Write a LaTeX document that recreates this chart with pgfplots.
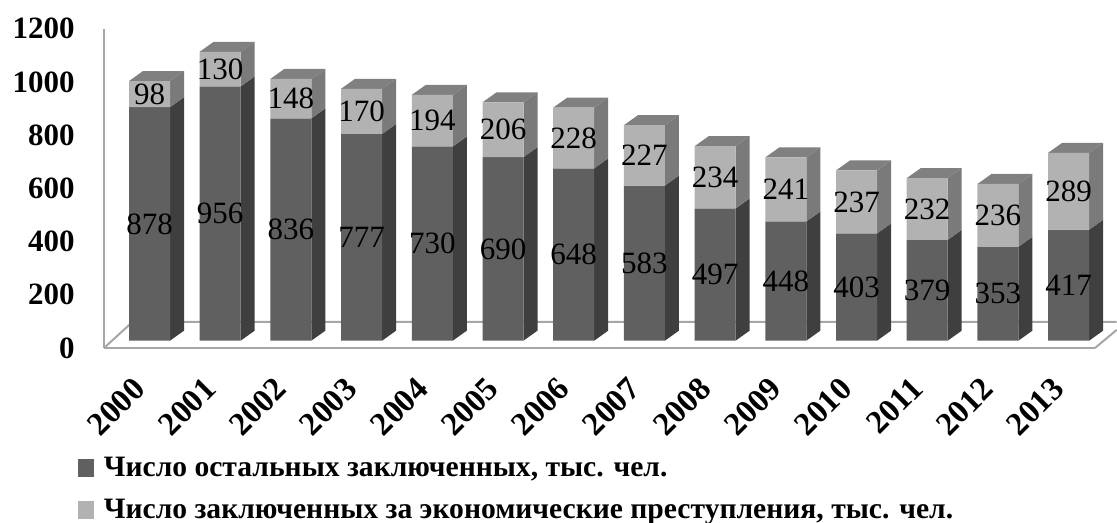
\documentclass[border=0pt]{standalone}
\usepackage{fontspec}
\setmainfont{Liberation Serif}
\usepackage{pgfplots}
\usepackage{pgfplotstable}
\pgfplotsset{compat=1.18}

\definecolor{darkfront}{HTML}{606060}
\definecolor{darkside}{HTML}{3F3F3F}
\definecolor{lightfront}{HTML}{B2B2B2}
\definecolor{lightside}{HTML}{7A7A7A}
\definecolor{topface}{HTML}{808080}
\definecolor{wall}{HTML}{A6A6A6}

\pgfplotstableread{
idx year other econ
0 2000 878 98
1 2001 956 130
2 2002 836 148
3 2003 777 170
4 2004 730 194
5 2005 690 206
6 2006 648 228
7 2007 583 227
8 2008 497 234
9 2009 448 241
10 2010 403 237
11 2011 379 232
12 2012 353 236
13 2013 417 289
}\data

\newcommand{\bigfont}{\fontsize{23.25}{28}\selectfont}

\begin{document}
\begin{tikzpicture}[x=0.75pt,y=0.75pt]
% page = 1117x523 px, 1 px = 0.75pt, axis origin at px (104,348)
\useasboundingbox (-104,-175) rectangle (1013,348);
\begin{axis}[
    scale only axis,
    width=743.25pt, height=239.4pt,
    xmin=-0.6436, xmax=13.373,
    ymin=0, ymax=1200,
    clip=false,
    axis x line*=bottom, axis y line*=left,
    axis line style={wall, line width=1.8pt, -},
    major tick length=0pt,
    xtick={0,...,13},
    xticklabels={2000,2001,2002,2003,2004,2005,2006,2007,2008,2009,2010,2011,2012,2013},
    ytick={0,200,...,1200},
    /pgf/number format/assume math mode=true,
    /pgf/number format/1000 sep={},
    ticklabel style={font=\bigfont\bfseries},
    yticklabel style={anchor=east, xshift=-18.5pt},
    xticklabel style={font=\fontsize{24.5}{28}\selectfont\bfseries, rotate=45, anchor=north east, xshift=-20.6pt, yshift=-1.6pt},
    legend style={at={(-0.026,-0.332)}, anchor=north west, draw=none, fill=none,
        font=\fontsize{22.2}{24}\selectfont\bfseries, row sep=11.5pt, inner sep=0pt},
    legend cell align=left,
]
% floor
\addplot[wall, line width=1.5pt, forget plot] coordinates {(-0.6436,0) (-0.24,98) (13.68,98)};
\addplot[wall, line width=1.5pt, forget plot] coordinates {(13.373,0) (13.68,68)};

% side and top faces
\pgfplotsforeachungrouped \i in {0,...,13} {
    \pgfplotstablegetelem{\i}{other}\of\data \let\va\pgfplotsretval
    \pgfplotstablegetelem{\i}{econ}\of\data \let\vb\pgfplotsretval
    \pgfmathsetmacro\xl{\i-0.29}
    \pgfmathsetmacro\xr{\i+0.29}
    \pgfmathsetmacro\xld{\xl+0.198}
    \pgfmathsetmacro\xrd{\xr+0.198}
    \pgfmathsetmacro\ya{\va+37.6}
    \pgfmathsetmacro\yt{\va+\vb}
    \pgfmathsetmacro\ytd{\yt+37.6}
    \edef\temp{\noexpand\addplot[fill=darkside, draw=none, forget plot, yshift=5.5pt]
        coordinates {(\xr,0) (\xr,\va) (\xrd,\ya) (\xrd,37.6)} -- cycle;
        \noexpand\addplot[fill=lightside, draw=none, forget plot, yshift=5.5pt]
        coordinates {(\xr,\va) (\xr,\yt) (\xrd,\ytd) (\xrd,\ya)} -- cycle;
        \noexpand\addplot[fill=topface, draw=none, forget plot, yshift=5.5pt]
        coordinates {(\xl,\yt) (\xr,\yt) (\xrd,\ytd) (\xld,\ytd)} -- cycle;}
    \temp
}

% front faces
\pgfplotsset{square key/.style={legend image code/.code={
    \path[fill=none, draw=none] (0pt,-2.8pt) rectangle (17pt,2.8pt);
    \fill[overlay, fill=#1] (0pt,-12.75pt) rectangle (12pt,0.75pt);}}}
\addplot[ybar, stack plots=y, bar width=30.75pt, bar shift=0pt, fill=darkfront, draw=none,
    yshift=5.5pt, square key=darkfront] table[x=idx, y=other] {\data};
\addlegendentry{Число остальных заключенных, тыс. чел.}
\addplot[ybar, stack plots=y, bar width=30.75pt, bar shift=0pt, fill=lightfront, draw=none,
    yshift=5.5pt, square key=lightfront] table[x=idx, y=econ] {\data};
\addlegendentry{Число заключенных за экономические преступления, тыс. чел.}

% value labels, centred in the segments
\addplot[stack plots=false, only marks, mark=none, forget plot, yshift=5.5pt,
    point meta=explicit, nodes near coords,
    every node near coord/.append style={anchor=center, inner sep=0pt, text=black, font=\bigfont}]
    table[x=idx, y expr=\thisrow{other}/2, meta=other] {\data};
\addplot[stack plots=false, only marks, mark=none, forget plot, yshift=5.5pt,
    point meta=explicit, nodes near coords,
    every node near coord/.append style={anchor=center, inner sep=0pt, text=black, font=\bigfont}]
    table[x=idx, y expr=\thisrow{other}+\thisrow{econ}/2, meta=econ] {\data};
\end{axis}
\end{tikzpicture}
\end{document}
